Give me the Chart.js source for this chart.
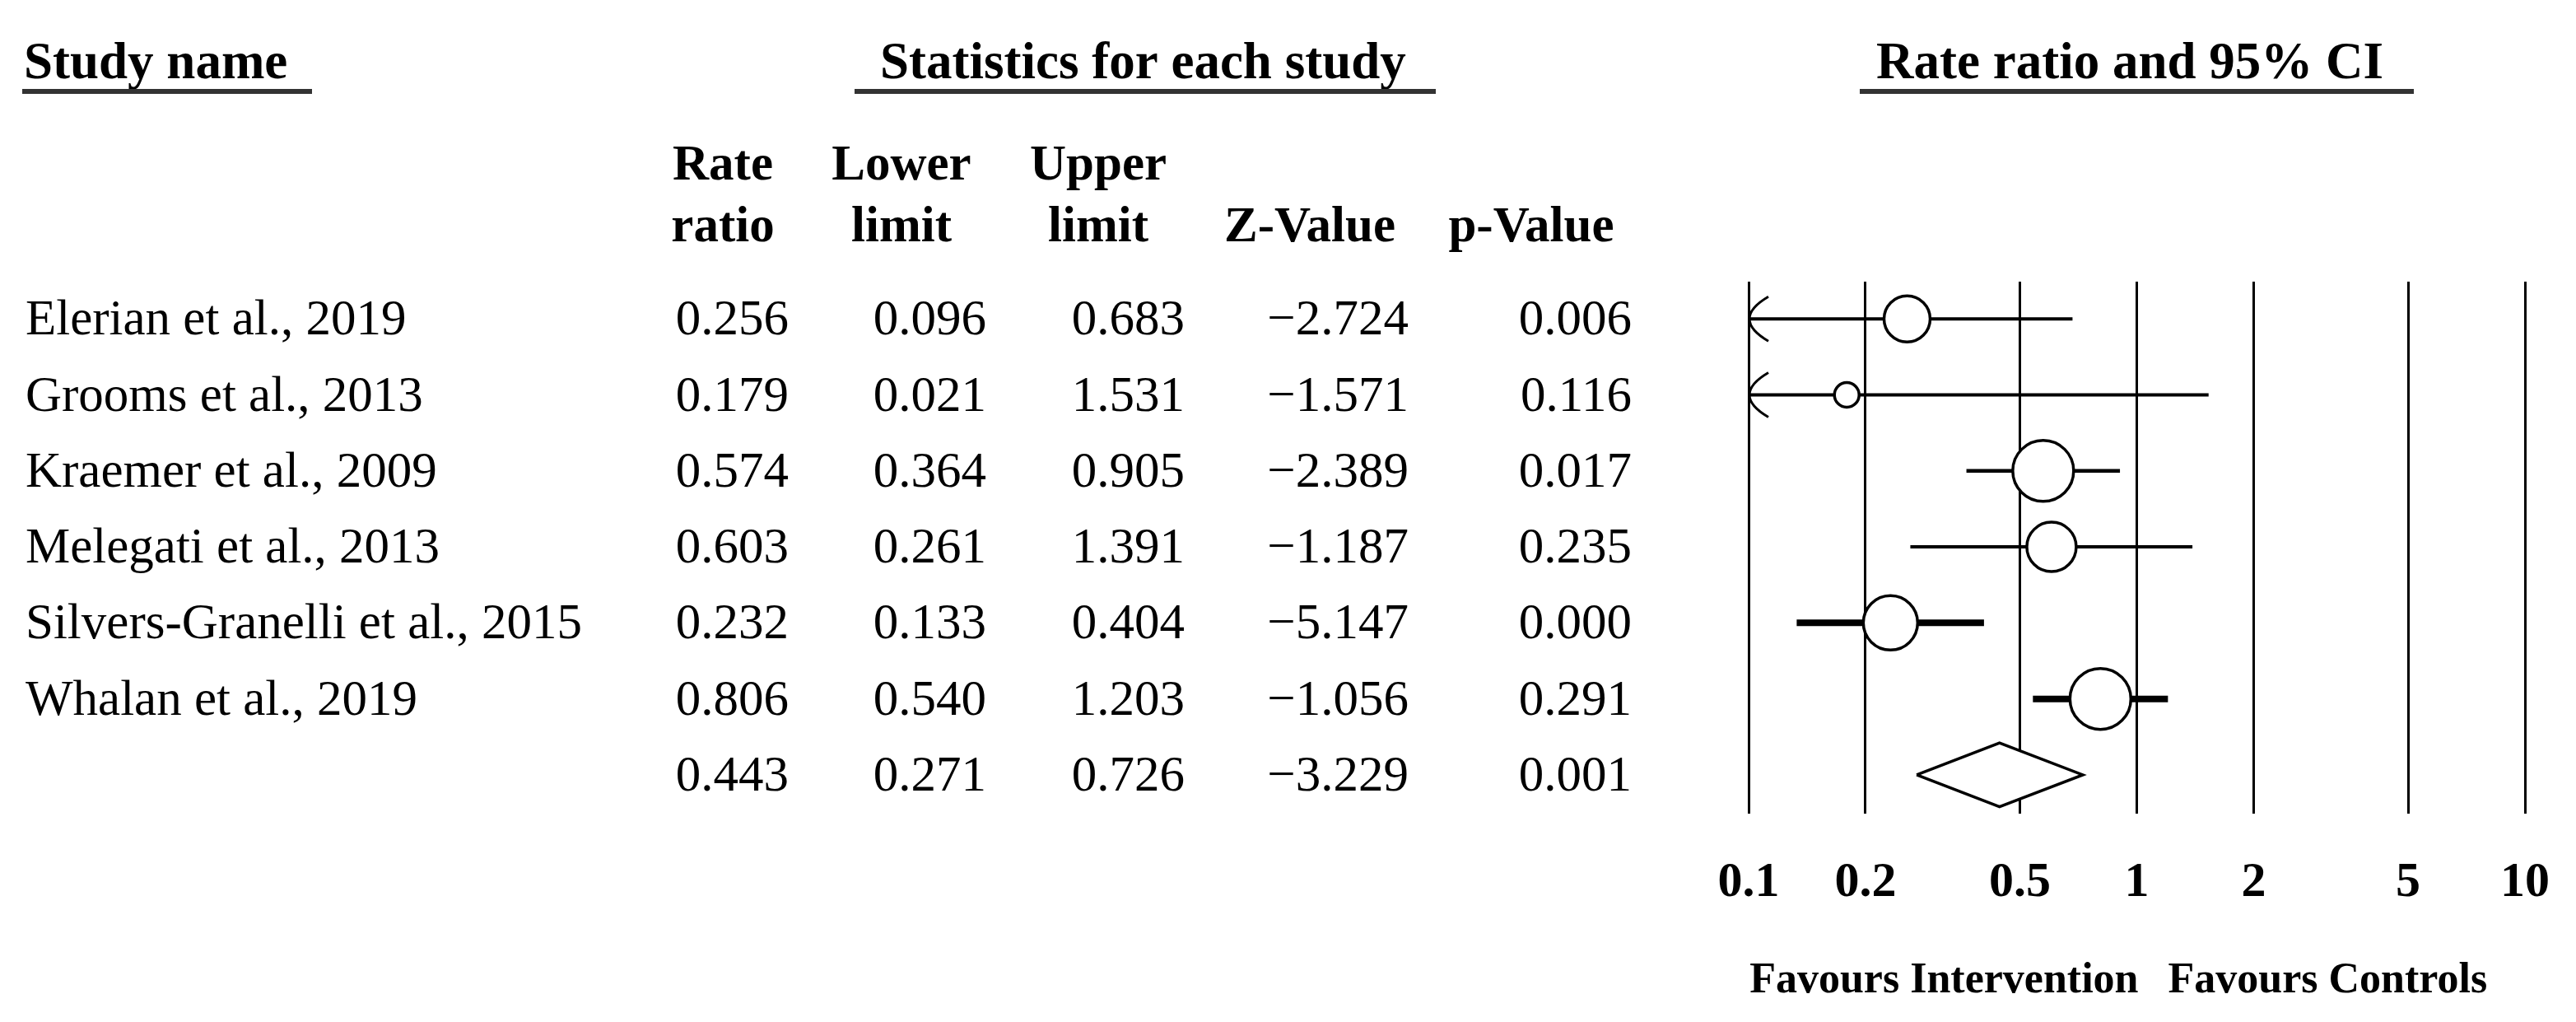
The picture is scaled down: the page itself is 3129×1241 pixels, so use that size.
<!DOCTYPE html>
<html>
<head>
<meta charset="utf-8">
<title>Forest plot</title>
<script src="https://cdn.jsdelivr.net/npm/chart.js@4.4.1/dist/chart.umd.min.js"></script>
<style>
  html, body { margin: 0; padding: 0; background: #fff; }
  #wrap { width: 3129px; height: 1241px; position: relative; }
</style>
</head>
<body>
<div id="wrap"><canvas id="forest"></canvas></div>
<script>
// data
const studies = [
  "Elerian et al., 2019",
  "Grooms et al., 2013",
  "Kraemer et al., 2009",
  "Melegati et al., 2013",
  "Silvers-Granelli et al., 2015",
  "Whalan et al., 2019"
];
const rateRatio  = [0.256, 0.179, 0.574, 0.603, 0.232, 0.806];
const lowerLimit = [0.096, 0.021, 0.364, 0.261, 0.133, 0.540];
const upperLimit = [0.683, 1.531, 0.905, 1.391, 0.404, 1.203];
const zValue     = [-2.724, -1.571, -2.389, -1.187, -5.147, -1.056];
const pValue     = [0.006, 0.116, 0.017, 0.235, 0.000, 0.291];

// pooled: rate ratio, lower, upper, Z, p
const pooled = [0.443, 0.271, 0.726, -3.229, 0.001];

const xTicks = [0.1, 0.2, 0.5, 1, 2, 5, 10];
const tickLabels = ["0.1", "0.2", "0.5", "1", "2", "5", "10"];

const colHeads = [["Rate", "ratio"], ["Lower", "limit"], ["Upper", "limit"], ["", "Z-Value"], ["", "p-Value"]];

// styles
const markerRadius = [28, 15, 37, 30, 33, 37];
const ciWidth = [4, 4, 4.5, 4, 8, 8];
const X_MIN = 0.1, X_MAX = 10;
const POOLED_ROW = studies.length;
const DIAMOND_H = 0.42;

const SERIF = "'Liberation Serif', 'Times New Roman', serif";
const colRight = [958, 1198, 1439, 1711, 1982];
const colCenter = [878, 1095, 1334, 1591, 1860];

function fmt(v){
  const s = Math.abs(v).toFixed(3);
  return v < 0 ? "\u2212" + s : s;
}

const ciSets = studies.map((name, i) => ({
  label: name,
  data: [
    { x: Math.max(lowerLimit[i], X_MIN), y: i },
    { x: Math.min(upperLimit[i], X_MAX), y: i }
  ],
  showLine: true,
  pointRadius: 0,
  borderColor: "#000",
  borderWidth: ciWidth[i],
  order: 2
}));

const markerSet = {
  label: "Rate ratio",
  data: rateRatio.map((v, i) => ({ x: v, y: i })),
  pointRadius: markerRadius,
  pointHoverRadius: markerRadius,
  pointStyle: "circle",
  pointBackgroundColor: "#fff",
  pointBorderColor: "#000",
  pointBorderWidth: 3.5,
  showLine: false,
  order: 0
};

const diamondSet = {
  label: "Pooled",
  data: [
    { x: pooled[1], y: POOLED_ROW },
    { x: pooled[0], y: POOLED_ROW - DIAMOND_H },
    { x: pooled[2], y: POOLED_ROW },
    { x: pooled[0], y: POOLED_ROW + DIAMOND_H },
    { x: pooled[1], y: POOLED_ROW }
  ],
  showLine: true,
  pointRadius: 0,
  borderColor: "#000",
  borderWidth: 3.5,
  backgroundColor: "#fff",
  fill: "shape",
  order: 0
};

// table text, headers, arrows and axis labels
const tablePlugin = {
  id: "tableText",
  afterDatasetsDraw(chart){
    const ctx = chart.ctx;
    const xs = chart.scales.x, ys = chart.scales.y;
    const x0 = xs.getPixelForValue(X_MIN);
    ctx.save();
    ctx.strokeStyle = "#000";
    ctx.lineWidth = 3;
    lowerLimit.forEach((lo, i) => {
      if (lo >= X_MIN) return;
      const y = ys.getPixelForValue(i);
      ctx.beginPath();
      ctx.moveTo(x0 + 24, y - 27);
      ctx.quadraticCurveTo(x0 - 22, y, x0 + 24, y + 27);
      ctx.stroke();
    });
    ctx.restore();
  },
  afterDraw(chart){
    const ctx = chart.ctx;
    const xs = chart.scales.x, ys = chart.scales.y;
    ctx.save();
    ctx.fillStyle = "#000";
    ctx.textBaseline = "alphabetic";

    // group titles
    ctx.font = "bold 63px " + SERIF;
    ctx.textAlign = "left";
    ctx.fillText("Study name", 29, 95);
    ctx.fillText("Statistics for each study", 1069, 95);
    ctx.fillText("Rate ratio and 95% CI", 2279, 95);
    ctx.fillStyle = "#333";
    ctx.fillRect(27, 108, 352, 6);
    ctx.fillRect(1038, 108, 706, 6);
    ctx.fillRect(2259, 108, 673, 6);
    ctx.fillStyle = "#000";

    // column heads
    ctx.font = "bold 61px " + SERIF;
    ctx.textAlign = "center";
    colHeads.forEach((h, c) => {
      if (h[0]) ctx.fillText(h[0], colCenter[c], 218);
      ctx.fillText(h[1], colCenter[c], 293);
    });

    // rows
    ctx.font = "61px " + SERIF;
    studies.forEach((name, i) => {
      const base = ys.getPixelForValue(i) + 19;
      ctx.textAlign = "left";
      ctx.fillText(name, 31, base);
      ctx.textAlign = "right";
      [rateRatio[i], lowerLimit[i], upperLimit[i], zValue[i], pValue[i]].forEach((v, c) => {
        ctx.fillText(fmt(v), colRight[c], base);
      });
    });
    const pbase = ys.getPixelForValue(POOLED_ROW) + 19;
    ctx.textAlign = "right";
    pooled.forEach((v, c) => ctx.fillText(fmt(v), colRight[c], pbase));

    // x tick labels
    ctx.font = "bold 60px " + SERIF;
    ctx.textAlign = "center";
    xTicks.forEach((v, k) => ctx.fillText(tickLabels[k], xs.getPixelForValue(v), 1088));

    // favours labels
    const x1 = xs.getPixelForValue(1);
    ctx.font = "bold 52px " + SERIF;
    ctx.textAlign = "right";
    ctx.fillText("Favours Intervention", x1 + 2, 1205);
    ctx.textAlign = "left";
    ctx.fillText("Favours Controls", x1 + 38, 1205);
    ctx.restore();
  }
};

new Chart(document.getElementById("forest"), {
  type: "scatter",
  data: { datasets: [...ciSets, markerSet, diamondSet] },
  options: {
    responsive: true,
    maintainAspectRatio: false,
    devicePixelRatio: 1,
    animation: false,
    events: [],
    layout: { padding: { left: 2124, right: 62, top: 342, bottom: 253 } },
    plugins: { legend: { display: false }, tooltip: { enabled: false } },
    scales: {
      x: {
        type: "logarithmic",
        min: X_MIN,
        max: X_MAX,
        afterBuildTicks: (scale) => { scale.ticks = xTicks.map(v => ({ value: v })); },
        ticks: { display: false },
        grid: { color: "#000", lineWidth: 3, drawTicks: false },
        border: { display: false }
      },
      y: {
        type: "linear",
        reverse: true,
        min: -0.49,
        max: 6.51,
        display: false
      }
    }
  },
  plugins: [tablePlugin]
});
</script>
</body>
</html>
